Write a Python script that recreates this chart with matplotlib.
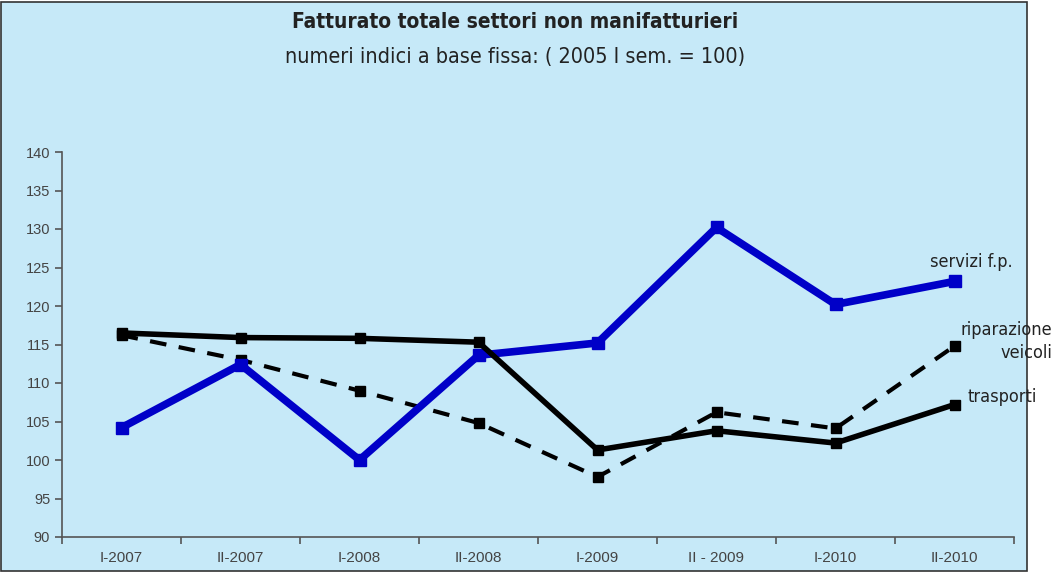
import matplotlib
matplotlib.use("Agg")
import matplotlib.pyplot as plt
from matplotlib.patches import Rectangle
import numpy as np

plt.rcParams['font.family'] = ['DejaVu Sans']
plt.rcParams['font.stretch'] = 'condensed'

periodi = ['I-2007', 'II-2007', 'I-2008', 'II-2008', 'I-2009', 'II - 2009', 'I-2010', 'II-2010']
servizi = [104.2, 112.4, 100.0, 113.6, 115.2, 130.2, 120.2, 123.2]
trasporti = [116.5, 115.9, 115.8, 115.3, 101.3, 103.8, 102.2, 107.2]
riparazione = [116.2, 113.0, 109.0, 104.8, 97.8, 106.2, 104.1, 114.8]

W, H = 1054, 572
fig = plt.figure(figsize=(W / 100, H / 100), dpi=100)
fig.patch.set_facecolor('white')

bg = '#c6e9f8'
fig.patches.append(Rectangle((1 / W, 1 / H), 1026 / W, 1 - 3 / H, transform=fig.transFigure,
                             facecolor=bg, edgecolor='#333333', linewidth=1.2, zorder=-10))

fig.text(515 / W, 1 - 22 / H, 'Fatturato totale settori non manifatturieri', ha='center', va='center',
         fontsize=15, fontweight='bold', color='#222222')
fig.text(515 / W, 1 - 57 / H, 'numeri indici a base fissa: ( 2005 I sem. = 100)', ha='center', va='center',
         fontsize=15.5, color='#222222')

ax = fig.add_axes([62 / W, 1 - 537 / H, (1014 - 62) / W, (537 - 152) / H])
ax.set_facecolor('none')
x = np.arange(len(periodi))

ax.plot(x, riparazione, color='black', lw=3, ls=(0, (4, 3)), marker='s', ms=7, zorder=2)
ax.plot(x, servizi, color='#0000c8', lw=5.5, marker='s', ms=8, zorder=3)
ax.plot(x, trasporti, color='black', lw=4, marker='s', ms=7, zorder=4)

ax.set_xlim(-0.5, len(periodi) - 0.5)
ax.set_ylim(90, 140)
ax.set_yticks(np.arange(90, 141, 5))
ax.set_xticks(np.arange(-0.5, len(periodi), 1))
ax.set_xticklabels([])
ax.set_xticks(x, minor=True)
ax.set_xticklabels(periodi, minor=True)
ax.tick_params(axis='x', which='minor', length=0, pad=10)
ax.tick_params(axis='x', which='major', length=5, color='#555555', width=1.2)
ax.tick_params(axis='y', length=5, color='#555555', width=1.2)
for lab in ax.get_xticklabels(minor=True):
    lab.set_fontfamily(['Liberation Sans', 'DejaVu Sans'])
    lab.set_fontstretch('normal')
    lab.set_fontsize(11)
    lab.set_color('#444444')
for lab in ax.get_yticklabels():
    lab.set_fontfamily(['Liberation Sans', 'DejaVu Sans'])
    lab.set_fontstretch('normal')
    lab.set_fontsize(10.5)
    lab.set_color('#444444')
for s in ['top', 'right']:
    ax.spines[s].set_visible(False)
for s in ['left', 'bottom']:
    ax.spines[s].set_color('#555555')
    ax.spines[s].set_linewidth(1.2)

fig.text(1013 / W, 1 - 262 / H, 'servizi f.p.', ha='right', va='center', fontsize=13, color='#222222')
fig.text(1052 / W, 1 - 330 / H, 'riparazione', ha='right', va='center', fontsize=13, color='#222222')
fig.text(1052 / W, 1 - 353 / H, 'veicoli', ha='right', va='center', fontsize=13, color='#222222')
fig.text(968 / W, 1 - 397 / H, 'trasporti', ha='left', va='center', fontsize=13, color='#222222')

fig.savefig('out.png', dpi=100)
